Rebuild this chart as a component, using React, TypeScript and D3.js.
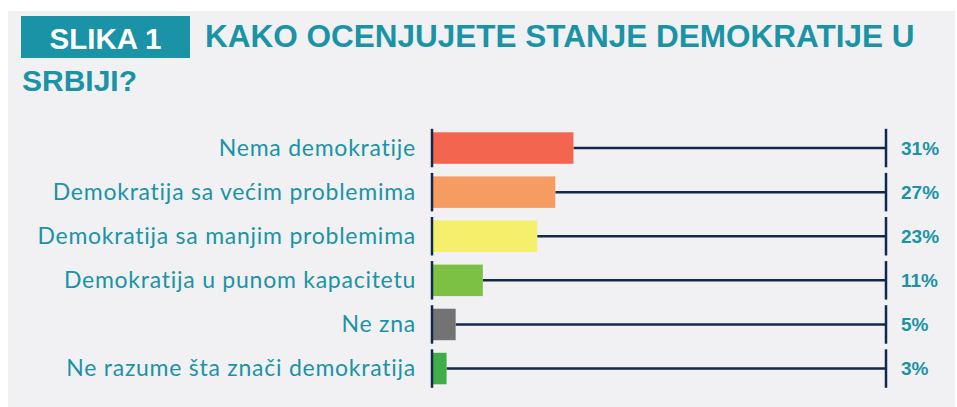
import { useRef, useEffect } from "react";
import * as d3 from "d3";

const categories = [
  "Nema demokratije",
  "Demokratija sa većim problemima",
  "Demokratija sa manjim problemima",
  "Demokratija u punom kapacitetu",
  "Ne zna",
  "Ne razume šta znači demokratija",
];
const values = [31, 27, 23, 11, 5, 3];
const barColors = ["#f3654e", "#f59c63", "#f5f06b", "#7cc143", "#737373", "#3fae49"];

const TEAL = "#1b93a6";
const NAVY = "#13294a";

export default function App() {
  const svgRef = useRef<SVGSVGElement>(null);

  useEffect(() => {
    if (!svgRef.current) return;
    const svg = d3.select(svgRef.current);
    svg.selectAll("*").remove();

    const width = 957;
    const height = 407;

    // panel background
    svg.append("rect").attr("width", width).attr("height", height).attr("fill", "#ffffff");
    svg.append("rect")
      .attr("x", 8).attr("y", 11)
      .attr("width", 947).attr("height", height - 11)
      .attr("fill", "#f1f1f3");

    // title
    svg.append("rect")
      .attr("x", 21).attr("y", 16)
      .attr("width", 169).attr("height", 42)
      .attr("fill", TEAL);
    svg.append("text")
      .attr("x", 105.5).attr("y", 49)
      .attr("text-anchor", "middle")
      .attr("font-family", "'Liberation Sans', Arial, sans-serif")
      .attr("font-weight", 700)
      .attr("font-size", 29.5)
      .attr("fill", "#ffffff")
      .text("SLIKA 1");
    svg.append("text")
      .attr("x", 205).attr("y", 47)
      .attr("font-family", "'Liberation Sans', Arial, sans-serif")
      .attr("font-weight", 700)
      .attr("font-size", 31.5)
      .attr("fill", TEAL)
      .text("KAKO OCENJUJETE STANJE DEMOKRATIJE U");
    svg.append("text")
      .attr("x", 22).attr("y", 91)
      .attr("font-family", "'Liberation Sans', Arial, sans-serif")
      .attr("font-weight", 700)
      .attr("font-size", 30)
      .attr("fill", TEAL)
      .text("SRBIJI?");

    const x = d3.scaleLinear().domain([0, 100]).range([433, 886]);
    const y = d3.scaleBand<string>()
      .domain(categories)
      .range([126, 390.6])
      .paddingInner(0.286)
      .paddingOuter(0.143);

    const rows = svg.selectAll(".row")
      .data(categories)
      .enter()
      .append("g")
      .attr("class", "row");

    const bw = y.bandwidth();
    const cy = (d: string) => (y(d) ?? 0) + bw / 2;

    // connector to the 100% end
    rows.append("line")
      .attr("x1", (_, i) => x(values[i]))
      .attr("x2", x(100))
      .attr("y1", cy)
      .attr("y2", cy)
      .attr("stroke", NAVY)
      .attr("stroke-width", 2.5);

    rows.append("rect")
      .attr("x", x(0))
      .attr("y", (d) => y(d) ?? 0)
      .attr("width", (_, i) => x(values[i]) - x(0))
      .attr("height", bw)
      .attr("fill", (_, i) => barColors[i]);

    // left and right ticks
    [0, 100].forEach((v) => {
      rows.append("line")
        .attr("x1", x(v) - (v === 0 ? 1 : 0))
        .attr("x2", x(v) - (v === 0 ? 1 : 0))
        .attr("y1", (d) => (y(d) ?? 0) - 3.5)
        .attr("y2", (d) => (y(d) ?? 0) + bw + 3.5)
        .attr("stroke", NAVY)
        .attr("stroke-width", 2.5);
    });

    rows.append("text")
      .attr("x", 416)
      .attr("y", cy)
      .attr("dy", "0.34em")
      .attr("text-anchor", "end")
      .attr("font-family", "Lato, sans-serif")
      .attr("font-size", 23)
      .attr("letter-spacing", 0.75)
      .attr("fill", TEAL)
      .text((d) => d);

    rows.append("text")
      .attr("x", 901)
      .attr("y", cy)
      .attr("dy", "0.36em")
      .attr("font-family", "'Liberation Sans', Arial, sans-serif")
      .attr("font-weight", 700)
      .attr("font-size", 19)
      .attr("fill", TEAL)
      .text((_, i) => `${values[i]}%`);
  }, []);

  return (
    <svg
      ref={svgRef}
      width={957}
      height={407}
      style={{ position: "absolute", left: 0, top: 0, display: "block" }}
    />
  );
}
